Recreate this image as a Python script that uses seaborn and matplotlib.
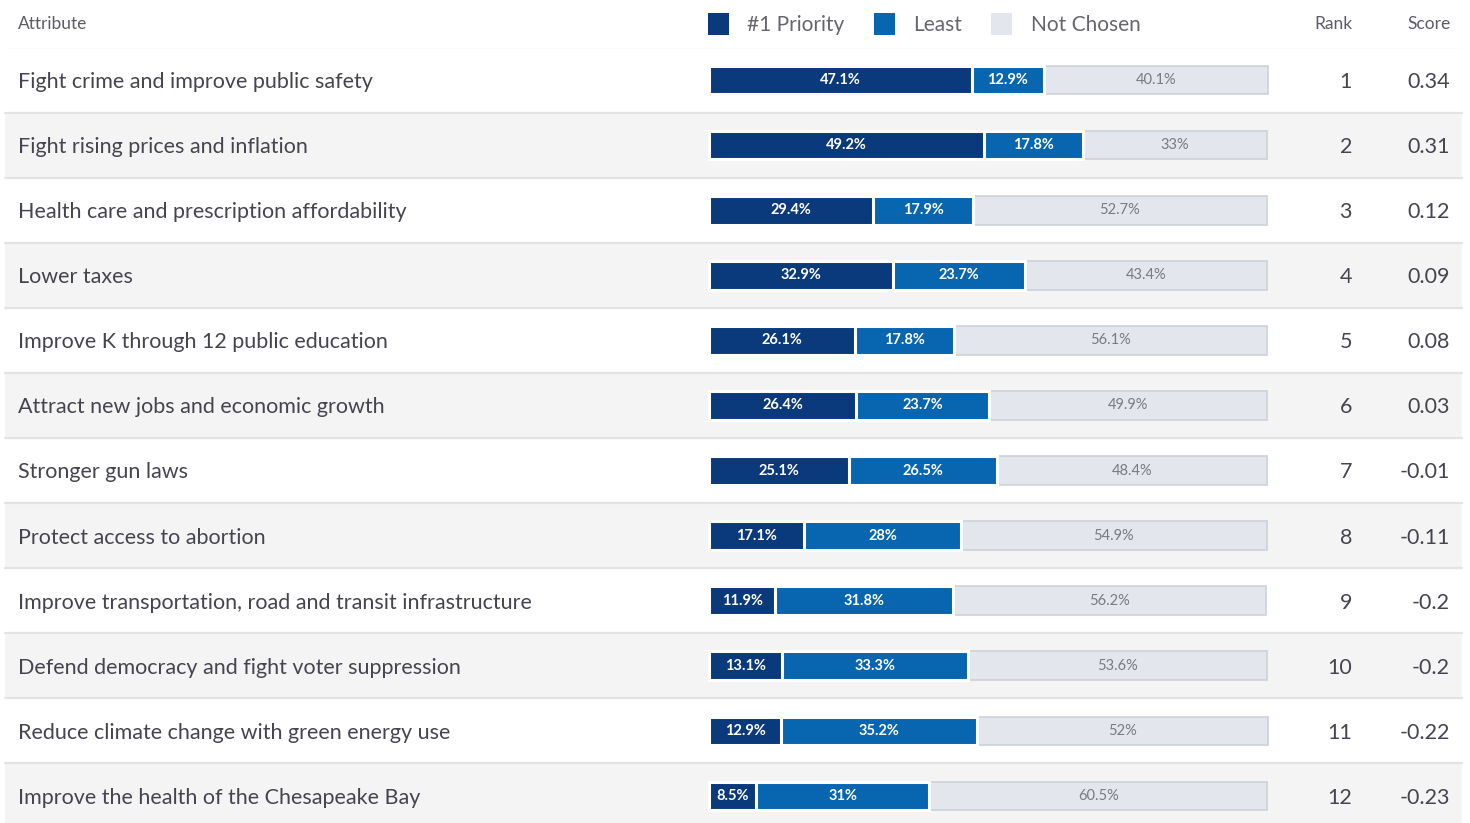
import numpy as np
import pandas as pd
import matplotlib
matplotlib.use("Agg")
import matplotlib.pyplot as plt
from matplotlib.patches import Patch
import seaborn as sns

# ================= DADOS =================
attributes = [
    "Fight crime and improve public safety",
    "Fight rising prices and inflation",
    "Health care and prescription affordability",
    "Lower taxes",
    "Improve K through 12 public education",
    "Attract new jobs and economic growth",
    "Stronger gun laws",
    "Protect access to abortion",
    "Improve transportation, road and transit infrastructure",
    "Defend democracy and fight voter suppression",
    "Reduce climate change with green energy use",
    "Improve the health of the Chesapeake Bay",
]
priority = [47.1, 49.2, 29.4, 32.9, 26.1, 26.4, 25.1, 17.1, 11.9, 13.1, 12.9, 8.5]
least = [12.9, 17.8, 17.9, 23.7, 17.8, 23.7, 26.5, 28, 31.8, 33.3, 35.2, 31]
not_chosen = [40.1, 33, 52.7, 43.4, 56.1, 49.9, 48.4, 54.9, 56.2, 53.6, 52, 60.5]
rank = [1, 2, 3, 4, 5, 6, 7, 8, 9, 10, 11, 12]
score = [0.34, 0.31, 0.12, 0.09, 0.08, 0.03, -0.01, -0.11, -0.2, -0.2, -0.22, -0.23]

legend_labels = ["#1 Priority", "Least", "Not Chosen"]

# ================= ESTILO =================
COR_PRIORITY = "#0b3a7c"
COR_LEAST = "#0866b0"
COR_NOT = "#e3e6ec"
COR_BORDA = "#cdd1d8"
COR_LINHA_CINZA = "#f4f4f4"
COR_SEPARADOR = "#e3e3e3"
COR_TEXTO = "#45454f"
COR_HEADER = "#5c5c66"

W, H = 1470, 823
sns.set_theme(style="white")
plt.rcParams["font.family"] = ["Lato", "DejaVu Sans"]

df = pd.DataFrame({
    "attribute": attributes,
    "priority": priority,
    "least": least,
    "not_chosen": not_chosen,
})
df["p_l"] = df["priority"] + df["least"]
df["total"] = df["p_l"] + df["not_chosen"]

fig = plt.figure(figsize=(W / 100, H / 100), dpi=100)
ax = fig.add_axes([0, 0, 1, 1 - 47.5 / H])

n = len(attributes)

# fundo alternado das linhas e separadores
for i in range(n):
    if i % 2 == 1:
        ax.axhspan(i - 0.5, i + 0.5, xmin=5 / W, xmax=1462 / W,
                   color=COR_LINHA_CINZA, zorder=0, lw=0)
    ax.axhline(i - 0.5, xmin=5 / W, xmax=1462 / W, color=COR_SEPARADOR,
               lw=1.6, zorder=0.5)

# barras empilhadas (camadas acumuladas)
largura = 0.44
sns.barplot(data=df, x="total", y="attribute", order=attributes, color=COR_NOT,
            width=largura, edgecolor=COR_BORDA, linewidth=1.2, errorbar=None,
            saturation=1, ax=ax, zorder=2)
sns.barplot(data=df, x="p_l", y="attribute", order=attributes, color=COR_LEAST,
            width=largura, edgecolor="white", linewidth=2.2, errorbar=None,
            saturation=1, ax=ax, zorder=3)
sns.barplot(data=df, x="priority", y="attribute", order=attributes, color=COR_PRIORITY,
            width=largura, edgecolor="white", linewidth=2.2, errorbar=None,
            saturation=1, ax=ax, zorder=4)

# escala: 0% em x=709px e 100% em x=1267px
px_por_pct = (1267 - 709) / 100
ax.set_xlim(-709 / px_por_pct, (W - 709) / px_por_pct)
ax.set_ylim(n - 0.5 - 5.5 / 65.1, -0.5)
ax.axis("off")

# rótulos dentro das barras
for i in range(n):
    p, l, nc = priority[i], least[i], not_chosen[i]
    ax.text(p / 2, i, f"{p:g}%", ha="center", va="center", color="white",
            fontsize=10.5, fontweight="bold", zorder=6)
    ax.text(p + l / 2, i, f"{l:g}%", ha="center", va="center", color="white",
            fontsize=10.5, fontweight="bold", zorder=6)
    ax.text(p + l + nc / 2, i, f"{nc:g}%", ha="center", va="center", color="#7a7a82",
            fontsize=10.5, zorder=6)

# colunas de texto
tr = ax.get_yaxis_transform()
for i in range(n):
    ax.text(18 / W, i + 0.03, attributes[i], transform=tr, ha="left", va="center",
            fontsize=15.5, color=COR_TEXTO)
    ax.text(1352 / W, i + 0.03, str(rank[i]), transform=tr, ha="right", va="center",
            fontsize=15.5, color=COR_TEXTO)
    ax.text(1450 / W, i + 0.03, f"{score[i]:g}", transform=tr, ha="right", va="center",
            fontsize=15.5, color=COR_TEXTO)

# cabeçalho
y_head = 1 - 24 / H
fig.text(18 / W, y_head, "Attribute", ha="left", va="center", fontsize=12.5, color=COR_HEADER)
fig.text(1353 / W, y_head, "Rank", ha="right", va="center", fontsize=12.5, color=COR_HEADER)
fig.text(1451 / W, y_head, "Score", ha="right", va="center", fontsize=12.5, color=COR_HEADER)

handles = [Patch(facecolor=c, edgecolor="none") for c in [COR_PRIORITY, COR_LEAST, COR_NOT]]
fig.legend(handles, legend_labels, loc="center left", bbox_to_anchor=(689 / W, y_head),
           ncol=3, frameon=False, fontsize=15, handlelength=1.0, handleheight=1.3,
           handletextpad=0.9, columnspacing=1.4, labelcolor="#66666e")

fig.savefig("out.png", dpi=100)
